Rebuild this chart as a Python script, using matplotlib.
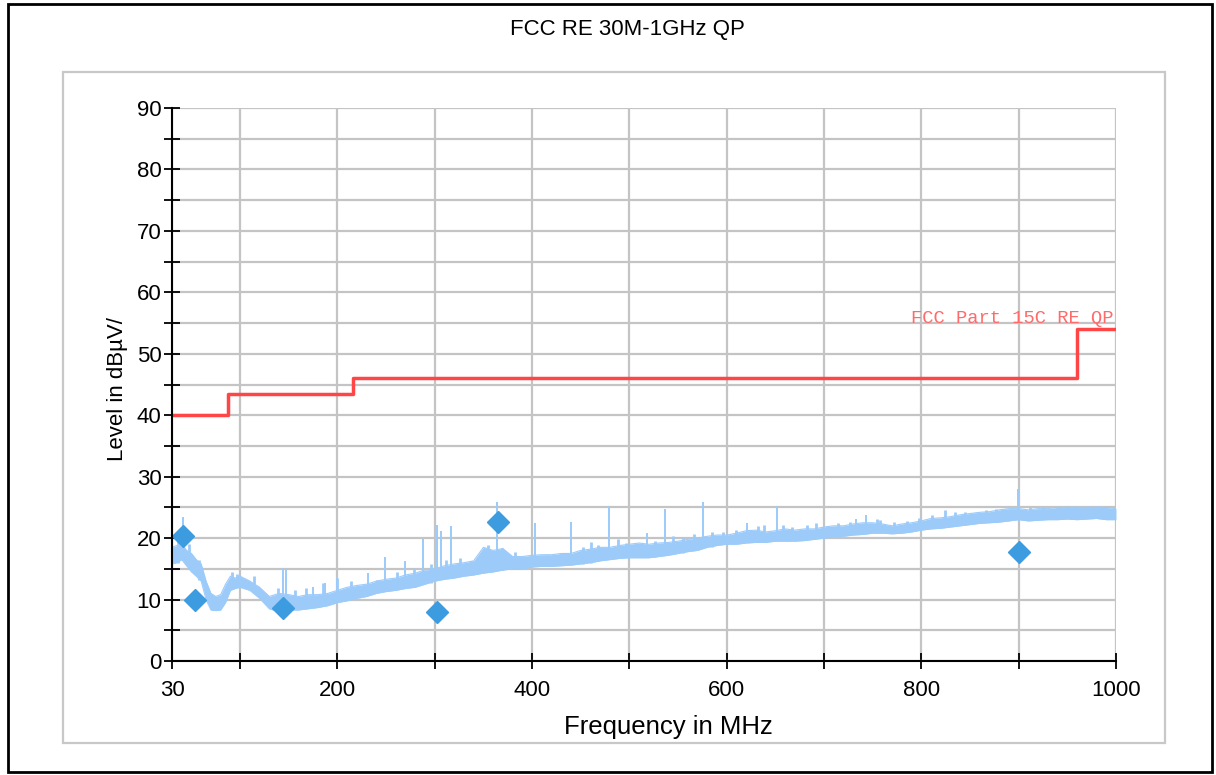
import matplotlib
matplotlib.use('Agg')
import matplotlib.pyplot as plt
from matplotlib.patches import Rectangle

# ---------------- data ----------------
title = "FCC RE 30M-1GHz QP"
x_label = "Frequency in MHz"
y_label = "Level in dBµV/"
limit_label = "FCC Part 15C RE QP"

x_ticks = [30, 100, 200, 300, 400, 500, 600, 700, 800, 900, 1000]
x_tick_labels = ["30", "", "200", "", "400", "", "600", "", "800", "", "1000"]
y_ticks = [0, 5, 10, 15, 20, 25, 30, 35, 40, 45, 50, 55, 60, 65, 70, 75, 80, 85, 90]
y_tick_labels = ["0", "", "10", "", "20", "", "30", "", "40", "", "50", "", "60", "", "70", "", "80", "", "90"]

# limit line (step, post)
limit_f = [30, 88, 216, 960, 1000]
limit_v = [40.0, 43.5, 46.0, 54.0, 54.0]

env_f = [30, 35, 40, 45, 50, 55, 60, 65, 70, 75, 80, 85, 90, 95, 100, 110, 120, 130, 140, 150,
         160, 170, 180, 190, 200, 210, 220, 230, 240, 250, 260, 270, 280, 290, 300, 310, 320, 330,
         340, 350, 360, 370, 380, 390, 400, 410, 420, 430, 440, 450, 460, 470, 480, 490, 500, 510,
         520, 530, 540, 550, 560, 570, 580, 590, 600, 610, 620, 630, 640, 650, 660, 670, 680, 690,
         700, 710, 720, 730, 740, 750, 760, 770, 780, 790, 800, 810, 820, 830, 840, 850, 860, 870,
         880, 890, 900, 910, 920, 930, 940, 950, 960, 970, 980, 990, 1000]
env_hi = [18.5, 18.8, 19.0, 18.0, 17.5, 16.5, 15.8, 13.0, 11.0, 10.5, 10.8, 12.5, 13.8, 13.5, 13.8,
          13.0, 12.0, 10.5, 11.0, 10.8, 10.5, 10.8, 10.8, 11.0, 11.5, 12.0, 12.3, 12.5, 13.0, 13.3,
          13.5, 14.0, 14.3, 14.8, 15.0, 15.5, 15.8, 16.0, 16.3, 18.5, 18.0, 18.3, 17.0, 17.0, 17.2,
          17.3, 17.3, 17.5, 17.5, 18.0, 18.2, 18.5, 18.5, 18.8, 19.0, 19.2, 19.0, 19.2, 19.3, 19.5,
          19.8, 20.0, 20.3, 20.5, 20.5, 20.8, 21.2, 21.3, 21.0, 21.2, 21.5, 21.3, 21.5, 21.5, 21.8,
          22.0, 22.0, 22.3, 22.5, 22.5, 22.3, 22.0, 22.3, 22.5, 22.8, 23.2, 23.3, 23.5, 23.8, 24.0,
          24.2, 24.3, 24.6, 24.8, 24.8, 24.6, 24.8, 24.8, 25.0, 25.0, 25.0, 25.0, 25.0, 25.0, 24.8]
env_lo = [15.8, 16.0, 16.5, 15.5, 14.5, 13.8, 13.0, 10.0, 8.3, 8.2, 8.3, 9.5, 11.5, 11.8, 12.0,
          11.5, 10.2, 8.5, 8.0, 8.3, 8.3, 8.5, 8.7, 9.0, 9.5, 9.8, 10.2, 10.5, 11.0, 11.3,
          11.5, 11.8, 12.0, 12.5, 13.0, 13.3, 13.5, 13.8, 14.0, 14.3, 14.5, 14.8, 15.0, 15.0, 15.3,
          15.4, 15.4, 15.5, 15.6, 15.8, 16.0, 16.3, 16.5, 16.7, 16.8, 16.8, 16.8, 17.0, 17.2, 17.5,
          17.8, 18.0, 18.5, 18.8, 19.0, 19.0, 19.2, 19.3, 19.3, 19.5, 19.5, 19.5, 19.6, 19.8, 20.0,
          20.2, 20.3, 20.5, 20.6, 20.8, 20.8, 20.7, 20.8, 21.0, 21.3, 21.5, 21.6, 21.8, 22.0, 22.2,
          22.4, 22.5, 22.6, 22.8, 23.0, 22.8, 22.9, 23.0, 23.0, 23.1, 23.0, 23.1, 23.2, 23.0, 23.0]

# narrow spikes on the trace
spike_f = [41, 144, 147, 175, 187, 200, 231, 249, 269, 288, 302, 306, 317, 364, 403, 440, 479,
           518, 536.5, 575.6, 621, 652, 733, 743, 899]
spike_base = [17.0, 10.0, 10.0, 9.5, 9.8, 10.5, 11.5, 12.5, 13.0, 13.5, 14.0, 14.0, 14.5, 16.0,
              16.0, 16.5, 17.0, 17.5, 18.0, 19.0, 20.0, 20.5, 21.5, 21.5, 23.5]
spike_peak = [23.4, 15.1, 14.8, 12.0, 12.7, 13.5, 14.3, 16.9, 16.3, 19.9, 22.1, 21.2, 22.0, 25.9,
              22.5, 22.6, 25.2, 20.8, 24.7, 25.9, 22.5, 25.2, 23.1, 23.8, 28.0]

# small "grass" peaks along the trace
grass_f = [36, 47, 58, 92, 97, 114, 139, 156, 168, 185, 199.5, 214, 240.6, 261, 279, 296, 312,
           326, 338, 355, 369, 382, 416, 430, 452, 461, 468, 488, 497, 506, 526, 545, 555, 566,
           584.5, 596, 610, 632, 638, 658, 667, 682, 692, 703, 714, 727, 754, 757.5, 772, 785,
           798, 811, 824, 834.5, 845, 855, 866, 877, 886, 912, 925, 940, 951, 958, 971, 980, 989]
grass_lo = [16.0, 15.5, 13.2, 11.7, 12.0, 11.5, 8.2, 8.5, 8.7, 9.0, 9.7, 10.2, 11.2, 11.7, 12.0,
            12.7, 13.5, 13.8, 14.2, 14.5, 14.8, 15.0, 15.6, 15.7, 15.8, 16.0, 16.2, 16.7, 16.9,
            17.0, 17.0, 17.4, 17.6, 18.0, 18.6, 19.0, 19.2, 19.5, 19.5, 19.7, 19.7, 19.8, 20.0,
            20.2, 20.4, 20.6, 21.0, 21.0, 20.9, 21.0, 21.4, 21.7, 21.9, 22.0, 22.2, 22.4, 22.6,
            22.7, 22.9, 23.0, 23.2, 23.2, 23.3, 23.3, 23.3, 23.3, 23.2]
grass_hi = [19.5, 19.0, 16.5, 14.5, 14.2, 13.8, 11.8, 11.5, 11.9, 12.7, 13.5, 13.0, 13.2, 14.5,
            15.2, 15.8, 16.4, 16.7, 16.2, 18.9, 18.4, 17.8, 17.3, 17.6, 18.6, 19.4, 18.9, 19.8,
            19.2, 18.9, 19.6, 20.3, 20.2, 20.6, 21.0, 21.0, 21.4, 21.9, 22.1, 22.1, 21.8, 22.1,
            22.4, 22.0, 22.5, 22.7, 23.1, 22.9, 22.6, 22.8, 23.3, 23.7, 24.5, 24.3, 24.2, 24.1,
            24.6, 24.8, 24.7, 25.0, 25.1, 25.1, 25.2, 25.3, 25.3, 25.2, 25.1]

# QP final measurement points
qp_f = [41.3, 53.6, 144.4, 302.6, 364.6, 900.3]
qp_v = [20.3, 9.9, 8.6, 7.9, 22.6, 17.7]

# ---------------- style ----------------
plt.rcParams['font.family'] = ['Liberation Sans', 'DejaVu Sans']
trace_color = '#9ccbfa'
limit_color = '#ff4646'
marker_color = '#3d9be0'
grid_color = '#c4c4c4'

W, H = 1216, 775
fig = plt.figure(figsize=(W / 100, H / 100), dpi=100)

# outer black frame
fig.patches.append(Rectangle((7.5 / W, 1 - 771.5 / H), (1211.5 - 7.5) / W, (771.5 - 3.5) / H,
                             transform=fig.transFigure, fill=False, ec='black', lw=2.0))
# inner gray panel frame
fig.patches.append(Rectangle((63 / W, 1 - 742.5 / H), (1165 - 63) / W, (742.5 - 71.5) / H,
                             transform=fig.transFigure, fill=False, ec='#c8c8c8', lw=1.6))

ax = fig.add_axes([172 / W, 1 - 661 / H, (1116 - 172) / W, (661 - 108) / H])
ax.set_xlim(30, 1000)
ax.set_ylim(0, 90)

ax.set_xticks(x_ticks)
ax.set_xticklabels(x_tick_labels)
ax.set_yticks(y_ticks)
ax.set_yticklabels(y_tick_labels)
ax.grid(True, color=grid_color, lw=1.6, zorder=0)
ax.set_axisbelow(True)

for s in ['top', 'right']:
    ax.spines[s].set_visible(False)
for s in ['left', 'bottom']:
    ax.spines[s].set_linewidth(1.5)
    ax.spines[s].set_color('black')
    ax.spines[s].set_zorder(5)

ax.tick_params(axis='both', direction='inout', length=11, width=1.3, colors='black',
               labelsize=16)
ax.tick_params(axis='x', pad=8)
ax.tick_params(axis='y', pad=2)

# trace
ax.fill_between(env_f, env_lo, env_hi, color=trace_color, lw=0, zorder=2)
ax.plot(env_f, env_hi, color=trace_color, lw=0.8, zorder=2)
ax.plot(env_f, env_lo, color=trace_color, lw=0.8, zorder=2)
ax.vlines(grass_f, grass_lo, grass_hi, color=trace_color, lw=2.0, zorder=2)
ax.vlines(spike_f, spike_base, spike_peak, color=trace_color, lw=1.4, zorder=2)

# limit
ax.step(limit_f, limit_v, where='post', color=limit_color, lw=2.5, zorder=3)
ax.text(997, 55.0, limit_label, color='#ff6a6a', fontsize=13.5,
        family=['Liberation Mono', 'DejaVu Sans Mono'], ha='right', va='baseline', zorder=4)

# QP markers
ax.plot(qp_f, qp_v, linestyle='none', marker='D', markersize=11.5, color=marker_color, zorder=4)

fig.text(668 / W, 1 - 727 / H, x_label, ha='center', va='center', fontsize=18.5)
fig.text(117 / W, 1 - 389 / H, y_label, ha='center', va='center', rotation=90, fontsize=16)
fig.text(627 / W, 1 - 30 / H, title, ha='center', va='center', fontsize=16)

fig.savefig('out.png', dpi=100)
